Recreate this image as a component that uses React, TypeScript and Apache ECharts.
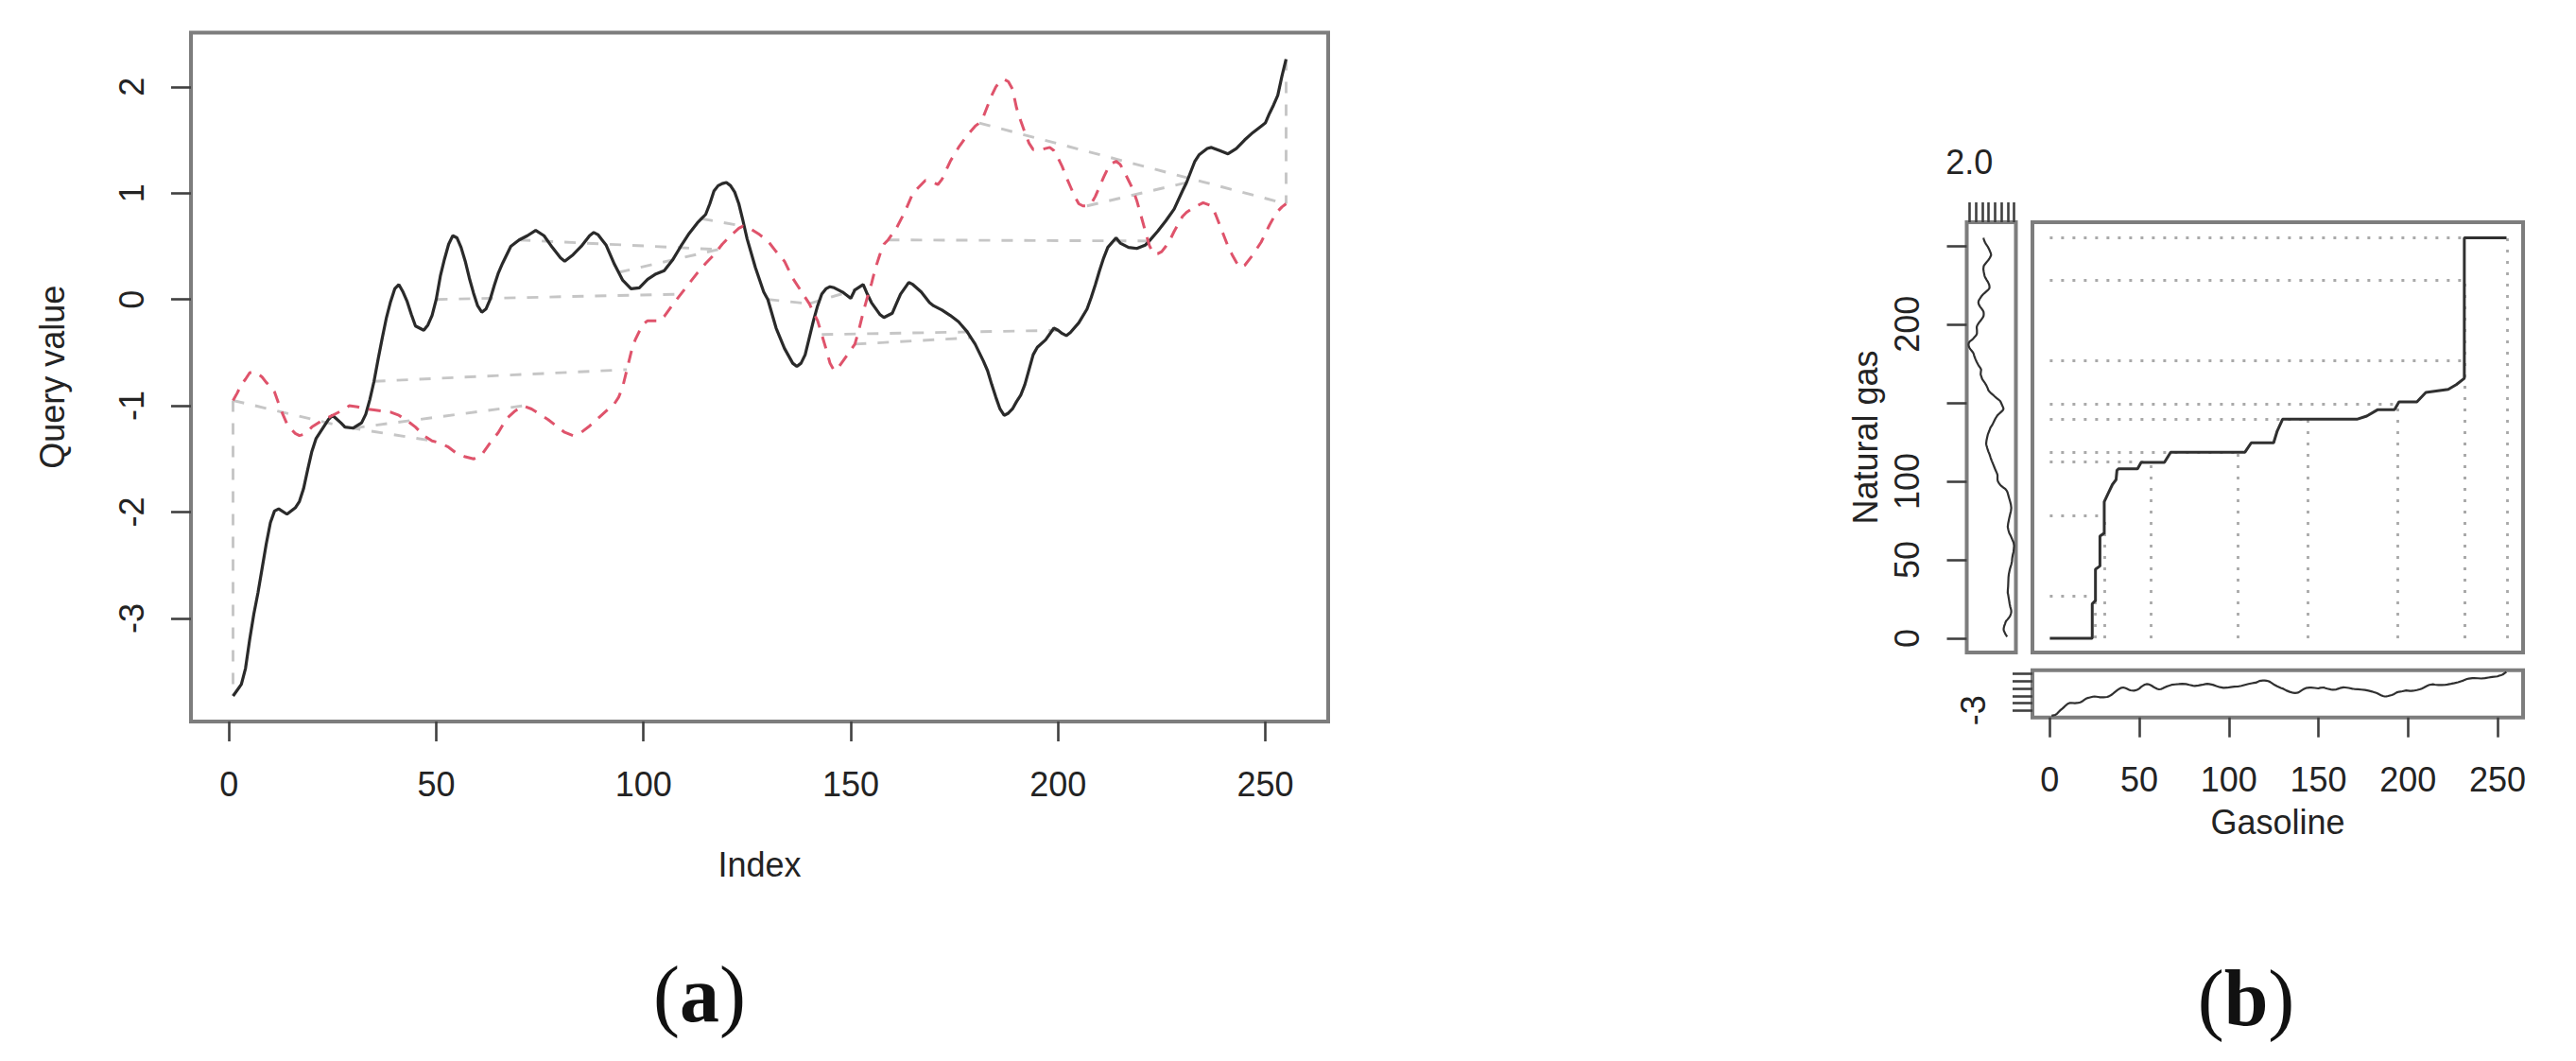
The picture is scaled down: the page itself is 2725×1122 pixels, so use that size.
import React, { useEffect, useRef } from "react";
import * as echarts from "echarts";

// ---------- DATA ----------
// Query series (gasoline), panel (a) solid black line: [index, value]
const gasolineQuery: [number, number][] = [
  [1, -3.73], [3, -3.62], [4, -3.47], [5, -3.2], [6, -2.96], [7, -2.76], [8, -2.53], [9, -2.3],
  [10, -2.1], [11, -1.99], [12, -1.97], [14, -2.02], [16, -1.96], [17, -1.9], [18, -1.78], [19, -1.6],
  [20, -1.43], [21, -1.31], [22, -1.25], [24, -1.13], [25, -1.09], [27, -1.16], [28, -1.2], [30, -1.21],
  [32, -1.16], [33, -1.08], [34, -0.94], [35, -0.77], [36, -0.56], [37, -0.36], [38, -0.17], [39, -0.02],
  [40, 0.1], [41, 0.14], [42, 0.07], [43, -0.02], [44, -0.14], [45, -0.25], [47, -0.29], [48, -0.24],
  [49, -0.15], [50, 0.0], [51, 0.22], [52, 0.38], [53, 0.52], [54, 0.6], [55, 0.58], [56, 0.49],
  [57, 0.36], [58, 0.2], [59, 0.06], [60, -0.06], [61, -0.12], [62, -0.09], [63, 0.0], [64, 0.13],
  [65, 0.25], [66, 0.34], [68, 0.5], [70, 0.56], [72, 0.6], [74, 0.65], [76, 0.6], [78, 0.49],
  [80, 0.39], [81, 0.36], [83, 0.42], [85, 0.5], [87, 0.6], [88, 0.63], [89, 0.61], [91, 0.51],
  [93, 0.33], [95, 0.18], [97, 0.1], [99, 0.11], [101, 0.19], [103, 0.24], [105, 0.27], [107, 0.37],
  [109, 0.5], [111, 0.62], [113, 0.72], [114, 0.76], [115, 0.8], [116, 0.9], [117, 1.02], [118, 1.07],
  [119, 1.09], [120, 1.1], [121, 1.07], [122, 1.01], [123, 0.9], [124, 0.74], [125, 0.57], [127, 0.3],
  [129, 0.07], [130, 0.0], [132, -0.27], [134, -0.46], [136, -0.6], [137, -0.63], [138, -0.6], [139, -0.52],
  [140, -0.36], [141, -0.2], [142, -0.06], [143, 0.05], [144, 0.1], [145, 0.12], [146, 0.11], [148, 0.07],
  [150, 0.01], [151, 0.09], [153, 0.14], [154, 0.05], [155, -0.03], [157, -0.14], [158, -0.17], [160, -0.13],
  [161, -0.04], [162, 0.05], [164, 0.16], [165, 0.14], [167, 0.07], [169, -0.03], [170, -0.06], [172, -0.1],
  [174, -0.15], [176, -0.21], [178, -0.3], [180, -0.42], [181, -0.5], [182, -0.58], [183, -0.67], [184, -0.8],
  [185, -0.92], [186, -1.03], [187, -1.09], [188, -1.07], [189, -1.03], [190, -0.96], [191, -0.9], [192, -0.8],
  [193, -0.66], [194, -0.52], [195, -0.45], [197, -0.38], [199, -0.27], [200, -0.29], [201, -0.32], [202, -0.34],
  [203, -0.31], [205, -0.22], [207, -0.09], [208, 0.02], [209, 0.14], [210, 0.27], [211, 0.39], [212, 0.49],
  [214, 0.58], [215, 0.53], [217, 0.49], [219, 0.48], [221, 0.51], [222, 0.55], [224, 0.64], [226, 0.74],
  [228, 0.85], [230, 1.02], [231, 1.1], [232, 1.2], [233, 1.3], [234, 1.36], [236, 1.42], [237, 1.43],
  [239, 1.4], [241, 1.37], [243, 1.42], [245, 1.5], [247, 1.57], [249, 1.63], [250, 1.66], [251, 1.75],
  [252, 1.83], [253, 1.92], [254, 2.1], [255, 2.26],
];

// Reference series (natural gas), panel (a) dashed red line: [index, value]
const naturalGasRef: [number, number][] = [
  [1, -0.95], [2, -0.88], [3, -0.8], [4, -0.75], [5, -0.69], [6, -0.68], [7, -0.7], [8, -0.73],
  [9, -0.78], [10, -0.82], [11, -0.87], [12, -0.98], [13, -1.08], [14, -1.17], [15, -1.22], [16, -1.26],
  [17, -1.28], [18, -1.27], [19, -1.24], [20, -1.2], [22, -1.15], [24, -1.11], [26, -1.07], [28, -1.03],
  [29, -1.0], [31, -1.01], [33, -1.03], [35, -1.04], [37, -1.05], [39, -1.06], [41, -1.09], [43, -1.14],
  [45, -1.2], [47, -1.28], [49, -1.33], [51, -1.35], [53, -1.39], [55, -1.45], [57, -1.48], [59, -1.5],
  [61, -1.46], [63, -1.35], [65, -1.25], [67, -1.12], [69, -1.05], [71, -1.0], [73, -1.03], [75, -1.08],
  [77, -1.13], [79, -1.19], [81, -1.25], [83, -1.28], [85, -1.25], [87, -1.19], [89, -1.12], [91, -1.05],
  [93, -0.98], [94, -0.92], [95, -0.82], [96, -0.66], [97, -0.5], [98, -0.38], [99, -0.3], [100, -0.23],
  [101, -0.2], [104, -0.2], [105, -0.16], [107, -0.05], [109, 0.05], [111, 0.15], [113, 0.25], [115, 0.34],
  [117, 0.42], [119, 0.52], [121, 0.6], [123, 0.67], [124, 0.69], [126, 0.66], [128, 0.61], [130, 0.55],
  [132, 0.45], [134, 0.36], [136, 0.2], [138, 0.08], [140, -0.04], [142, -0.2], [143, -0.33], [144, -0.46],
  [145, -0.6], [146, -0.67], [147, -0.64], [149, -0.53], [151, -0.42], [152, -0.28], [153, -0.12], [154, 0.02],
  [155, 0.15], [156, 0.3], [157, 0.42], [158, 0.52], [159, 0.56], [161, 0.67], [163, 0.82], [165, 1.0],
  [167, 1.08], [168, 1.12], [170, 1.1], [171, 1.08], [172, 1.13], [174, 1.3], [176, 1.43], [178, 1.54],
  [180, 1.63], [181, 1.66], [182, 1.72], [183, 1.82], [184, 1.92], [185, 2.0], [186, 2.05], [187, 2.07],
  [188, 2.05], [189, 1.98], [190, 1.8], [191, 1.68], [192, 1.57], [193, 1.47], [194, 1.41], [196, 1.41],
  [198, 1.43], [199, 1.4], [200, 1.33], [201, 1.25], [202, 1.15], [203, 1.06], [204, 0.97], [205, 0.9],
  [206, 0.88], [207, 0.88], [208, 0.9], [209, 0.97], [210, 1.06], [211, 1.15], [212, 1.23], [213, 1.28],
  [214, 1.3], [215, 1.27], [216, 1.2], [217, 1.12], [218, 1.04], [219, 0.93], [220, 0.79], [221, 0.65],
  [222, 0.51], [223, 0.43], [224, 0.43], [225, 0.45], [226, 0.5], [227, 0.56], [228, 0.64], [229, 0.71],
  [230, 0.78], [231, 0.82], [233, 0.87], [235, 0.91], [237, 0.88], [238, 0.8], [239, 0.7], [240, 0.6],
  [241, 0.5], [242, 0.42], [243, 0.35], [244, 0.3], [245, 0.32], [246, 0.37], [247, 0.42], [248, 0.48],
  [249, 0.54], [250, 0.62], [251, 0.7], [252, 0.77], [253, 0.83], [254, 0.87], [255, 0.9],
];

// Panel (a) matching segments: [fromSeries, fromIndex, toSeries, toIndex] ("q" = query, "r" = reference)
const matchSegmentsA: [string, number, string, number][] = [
  ["r", 1, "q", 1], ["r", 1, "q", 28], ["q", 29, "r", 49], ["q", 30, "r", 71], ["q", 35, "r", 96],
  ["q", 50, "r", 109], ["q", 70, "r", 118], ["q", 94, "r", 118], ["q", 114, "r", 124], ["q", 130, "r", 140],
  ["r", 140, "q", 151], ["r", 143, "q", 200], ["r", 151, "q", 179], ["r", 159, "q", 222], ["r", 181, "r", 255],
  ["r", 207, "q", 231], ["q", 255, "r", 255],
];

// Panel (b) warping path vertices: [gasoline index, natural gas index]
const warpPath: [number, number][] = [
  [0, 0], [23.7, 0], [23.7, 22], [25.5, 24], [25.5, 44], [28, 46], [28, 65], [30.4, 67], [30.4, 87],
  [32.5, 92], [35, 98], [37, 101], [37.5, 107], [38.5, 108], [49, 108], [51, 112], [64, 112], [67.5, 118.5],
  [109, 118.5], [112.5, 124.5], [125, 124.5], [127, 132], [130, 139.5], [171.5, 139.5], [177, 141.5],
  [183, 145.5], [192.5, 145.5], [195, 150.5], [205, 150.5], [210, 156.5], [222.5, 158.5], [227, 161.5],
  [231.5, 165.5], [231.5, 255], [255, 255],
];

// Panel (b) highlighted matches: [gasoline index, natural gas index]
const matchPointsB: [number, number][] = [
  [25.5, 27], [30.8, 78], [56.6, 112.4], [104.9, 118.4], [143.9, 139.5], [194.4, 148.9],
  [231.5, 177], [231.5, 227.8], [255.2, 254.9],
];

// Tick values
const indexTicks = [0, 50, 100, 150, 200, 250];
const queryValueTicks = [-3, -2, -1, 0, 1, 2];
const naturalGasTicks = [0, 50, 100, 150, 200, 250];
const naturalGasLabels = [0, 50, 100, 200];
const refValueTicks = [-1.5, -1.0, -0.5, 0, 0.5, 1.0, 1.5, 2.0];
const refValueLabels = [2.0];
const queryMarginLabels = [-3];

// ---------- STYLE ----------
const FONT = '"Liberation Sans", Arial, Helvetica, sans-serif';
const TEXT = "#232323";
const BOX = "#7d7d7d";
const TICK = "#404040";
const FS = 36;

function valueAt(series: [number, number][], idx: number): number {
  for (let k = 0; k < series.length; k++) {
    if (series[k][0] === idx) return series[k][1];
    if (series[k][0] > idx && k > 0) {
      const [x0, y0] = series[k - 1];
      const [x1, y1] = series[k];
      return y0 + ((y1 - y0) * (idx - x0)) / (x1 - x0);
    }
  }
  return series[series.length - 1][1];
}

function tickAxis(ticks: number[], labels: number[], margin: number, rotate = 0, fmt?: (v: number) => string) {
  return {
    axisLine: { show: false, onZero: false },
    splitLine: { show: false },
    axisTick: { show: true, customValues: ticks, length: 21, lineStyle: { color: TICK, width: 2.6 } },
    axisLabel: {
      show: true,
      customValues: labels,
      margin,
      rotate,
      fontSize: FS,
      fontFamily: FONT,
      color: TEXT,
      formatter: fmt ? (v: number) => fmt(v) : (v: number) => String(v),
    },
  };
}

const nameStyle = { fontSize: FS, fontFamily: FONT, color: TEXT };

export default function App() {
  const ref = useRef<HTMLDivElement>(null);

  useEffect(() => {
    if (!ref.current) return;
    const chart = echarts.init(ref.current, undefined, { renderer: "svg" });

    const pick = (s: string) => (s === "q" ? gasolineQuery : naturalGasRef);
    const segA = matchSegmentsA.map(([s1, i1, s2, i2]) => ({
      coords: [
        [i1, valueAt(pick(s1), i1)],
        [i2, valueAt(pick(s2), i2)],
      ],
    }));
    const segB: { coords: number[][] }[] = [];
    matchPointsB.forEach(([g, n]) => {
      segB.push({ coords: [[0, n], [g, n]] });
      segB.push({ coords: [[g, 0], [g, n]] });
    });

    const gridBox = { show: true, borderColor: BOX, borderWidth: 4, backgroundColor: "transparent" };

    const option: any = {
      animation: false,
      textStyle: { fontFamily: FONT },
      grid: [
        { left: 202, top: 34.5, width: 1203, height: 728.5, ...gridBox },
        { left: 2150, top: 235, width: 519, height: 455, ...gridBox },
        { left: 2080.5, top: 235, width: 52, height: 455, ...gridBox },
        { left: 2150, top: 708.7, width: 519, height: 50, ...gridBox },
      ],
      xAxis: [
        {
          gridIndex: 0, type: "value", min: -9.16, max: 265.16,
          ...tickAxis(indexTicks, indexTicks, 48),
          name: "Index", nameLocation: "middle", nameGap: 133, nameTextStyle: nameStyle,
        },
        { gridIndex: 1, type: "value", min: -9.7, max: 264.3, show: false },
        {
          gridIndex: 2, type: "value", min: -1.64, max: 2.21, inverse: true, position: "top",
          ...tickAxis(refValueTicks, refValueLabels, 46, 0, (v) => v.toFixed(1)),
        },
        {
          gridIndex: 3, type: "value", min: -9.7, max: 264.3, position: "bottom",
          ...tickAxis(indexTicks, indexTicks, 48),
          name: "Gasoline", nameLocation: "middle", nameGap: 93, nameTextStyle: nameStyle,
        },
      ],
      yAxis: [
        {
          gridIndex: 0, type: "value", min: -3.97, max: 2.51, position: "left",
          ...tickAxis(queryValueTicks, queryValueTicks, 45, 90),
          name: "Query value", nameLocation: "middle", nameGap: 129, nameTextStyle: nameStyle,
        },
        { gridIndex: 1, type: "value", min: -9.0, max: 264.9, show: false },
        {
          gridIndex: 2, type: "value", min: -9.0, max: 264.9, position: "left",
          ...tickAxis(naturalGasTicks, naturalGasLabels, 45, 90),
          name: "Natural gas", nameLocation: "middle", nameGap: 89, nameTextStyle: nameStyle,
        },
        {
          gridIndex: 3, type: "value", min: -3.97, max: 2.51, position: "left",
          ...tickAxis(queryValueTicks, queryMarginLabels, 45, 90),
        },
      ],
      series: [
        {
          type: "line", xAxisIndex: 0, yAxisIndex: 0, data: gasolineQuery, showSymbol: false, silent: true,
          lineStyle: { color: "#2a2a2a", width: 3.2 },
        },
        {
          type: "line", xAxisIndex: 0, yAxisIndex: 0, data: naturalGasRef, showSymbol: false, silent: true,
          lineStyle: { color: "#DF536B", width: 3, type: [13, 10] },
        },
        {
          type: "lines", coordinateSystem: "cartesian2d", xAxisIndex: 0, yAxisIndex: 0, data: segA, silent: true,
          lineStyle: { color: "#c6c6c6", width: 2.9, type: [12, 12], opacity: 1 },
        },
        {
          type: "lines", coordinateSystem: "cartesian2d", xAxisIndex: 1, yAxisIndex: 1, data: segB, silent: true,
          lineStyle: { color: "#a9a9a9", width: 2.8, type: [3, 9], opacity: 1 },
        },
        {
          type: "line", xAxisIndex: 1, yAxisIndex: 1, data: warpPath, showSymbol: false, silent: true,
          lineStyle: { color: "#303030", width: 3 },
        },
        {
          type: "line", xAxisIndex: 2, yAxisIndex: 2, data: naturalGasRef.map(([i, v]) => [v, i]),
          showSymbol: false, silent: true, lineStyle: { color: "#303030", width: 2.2 },
        },
        {
          type: "line", xAxisIndex: 3, yAxisIndex: 3, data: gasolineQuery, showSymbol: false, silent: true,
          lineStyle: { color: "#303030", width: 2.2 },
        },
      ],
      graphic: [
        {
          type: "text", x: 740, y: 1051,
          style: {
            text: "{p|(}{b|a}{p|)}", align: "center", verticalAlign: "middle", fill: "#111",
            rich: {
              p: { fontFamily: '"Liberation Serif", "Times New Roman", serif', fontSize: 84, fill: "#111" },
              b: { fontFamily: '"Liberation Serif", "Times New Roman", serif', fontSize: 84, fontWeight: "bold", fill: "#111" },
            },
          },
        },
        {
          type: "text", x: 2376, y: 1055,
          style: {
            text: "{p|(}{b|b}{p|)}", align: "center", verticalAlign: "middle", fill: "#111",
            rich: {
              p: { fontFamily: '"Liberation Serif", "Times New Roman", serif', fontSize: 84, fill: "#111" },
              b: { fontFamily: '"Liberation Serif", "Times New Roman", serif', fontSize: 84, fontWeight: "bold", fill: "#111" },
            },
          },
        },
      ],
    };

    chart.setOption(option);
    return () => chart.dispose();
  }, []);

  return (
    <div
      ref={ref}
      style={{ position: "fixed", left: 0, top: 0, width: 2725, height: 1122, background: "#fff" }}
    />
  );
}
